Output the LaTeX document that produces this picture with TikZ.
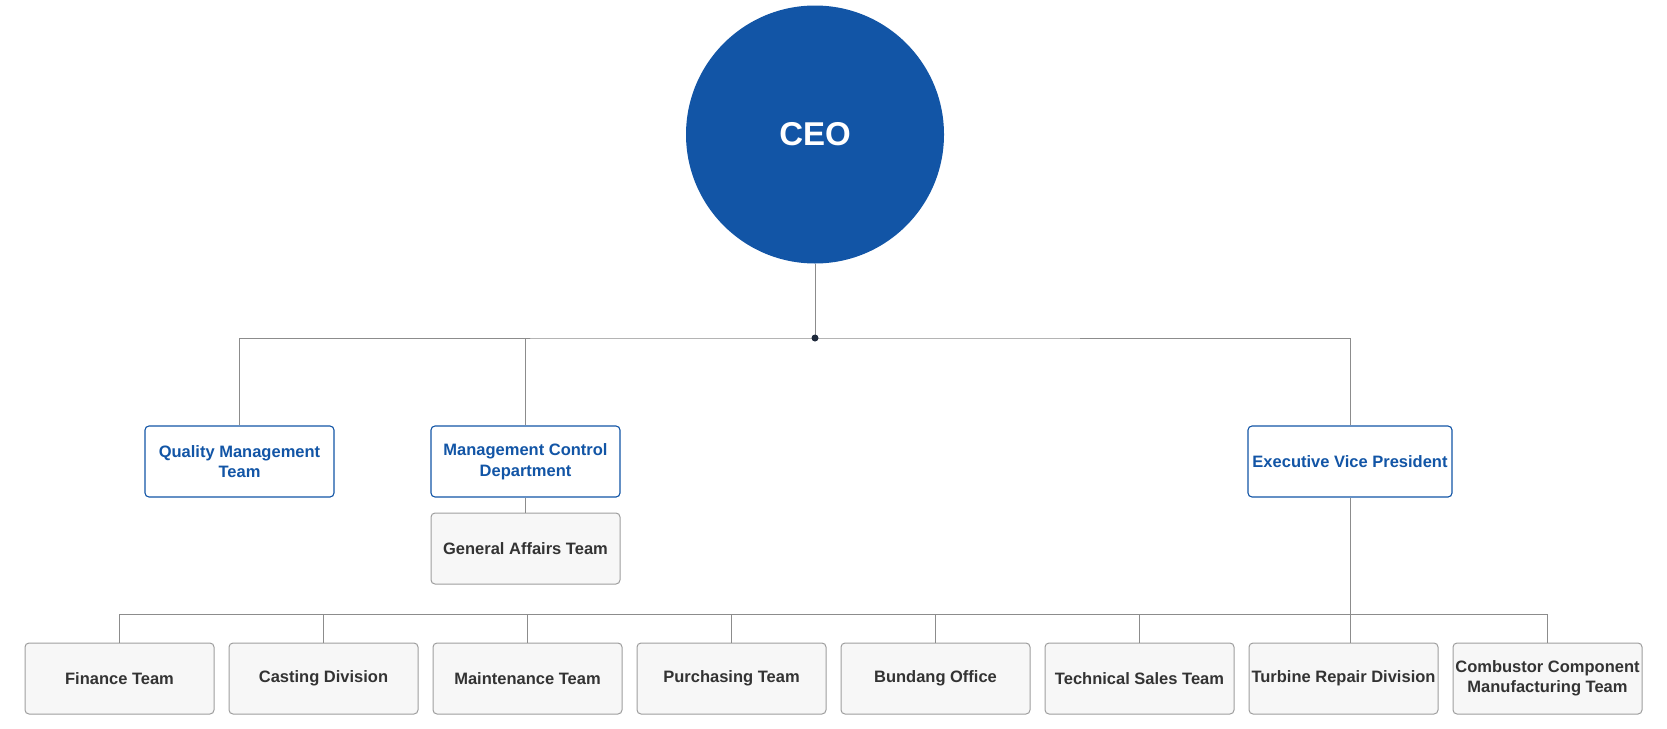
\documentclass[tikz,border=0pt]{standalone}
\usepackage{fontspec}
\setmainfont{Liberation Sans}
\definecolor{ceoblue}{HTML}{1255A6}
\definecolor{linegrey}{HTML}{8C8C8C}
\definecolor{boxgrey}{HTML}{F7F7F7}
\definecolor{boxborder}{HTML}{9E9E9E}
\definecolor{textdark}{HTML}{333333}
\definecolor{dotcol}{HTML}{1E293B}
\begin{document}
\begin{tikzpicture}[x=1pt,y=-1pt,
  conn/.style={draw=linegrey,line width=1pt},
  bluebox/.style={draw=ceoblue,fill=white,line width=1.1pt,rounded corners=4pt,
    minimum width=189pt,minimum height=71pt,inner sep=0pt,align=center,
    text=ceoblue,font=\fontsize{16.5}{20.5}\selectfont\bfseries},
  greybox/.style={draw=boxborder,fill=boxgrey,line width=1pt,rounded corners=4pt,
    minimum width=189pt,minimum height=71pt,inner sep=0pt,align=center,
    text=textdark,font=\fontsize{16.5}{20.5}\selectfont\bfseries}]
\path[use as bounding box] (0,0) rectangle (1667,728);
% CEO
\node[circle,fill=ceoblue,minimum size=258pt,inner sep=0pt,text=white,
  font=\fontsize{33}{36}\selectfont\bfseries] (ceo) at (815,134.5) {CEO};
\coordinate (hub) at (815,338);
% second level
\node[bluebox] (qm) at (239.5,461.5) {Quality Management\\Team};
\node[bluebox] (mcd) at (525.5,461.5) {Management Control\\Department};
\node[greybox] (ga) at (525.5,548.5) {General Affairs Team};
\node[bluebox,minimum width=204pt] (evp) at (1350,461.5) {Executive Vice President};
% bottom row
\node[greybox] (fin) at (119.5,678.5) {Finance Team};
\node[greybox] (cast) at (323.5,678.5) {Casting Division};
\node[greybox] (main) at (527.5,678.5) {Maintenance Team};
\node[greybox] (pur) at (731.5,678.5) {Purchasing Team};
\node[greybox] (bun) at (935.5,678.5) {Bundang Office};
\node[greybox] (tech) at (1139.5,678.5) {Technical Sales Team};
\node[greybox] (turb) at (1343.5,678.5) {Turbine Repair Division};
\node[greybox] (comb) at (1547.5,678.5) {Combustor Component\\Manufacturing Team};
% connectors
\draw[conn] (ceo.south) -- (hub);
\draw[conn] (qm.north) |- (hub) -| (evp.north);
\draw[conn] (mcd.north) -- (mcd.north |- hub);
\draw[conn] (mcd.south) -- (ga.north);
\coordinate (bus) at (0,614);
\draw[conn] (fin.north) |- (bus -| comb.north) -- (comb.north);
\draw[conn] (evp.south) -- (evp.south |- turb.north);
\foreach \n in {cast,main,pur,bun,tech}{
  \draw[conn] (\n.north) -- (\n.north |- bus);
}
\fill[dotcol] (hub) circle (3.5pt);
\end{tikzpicture}
\end{document}
